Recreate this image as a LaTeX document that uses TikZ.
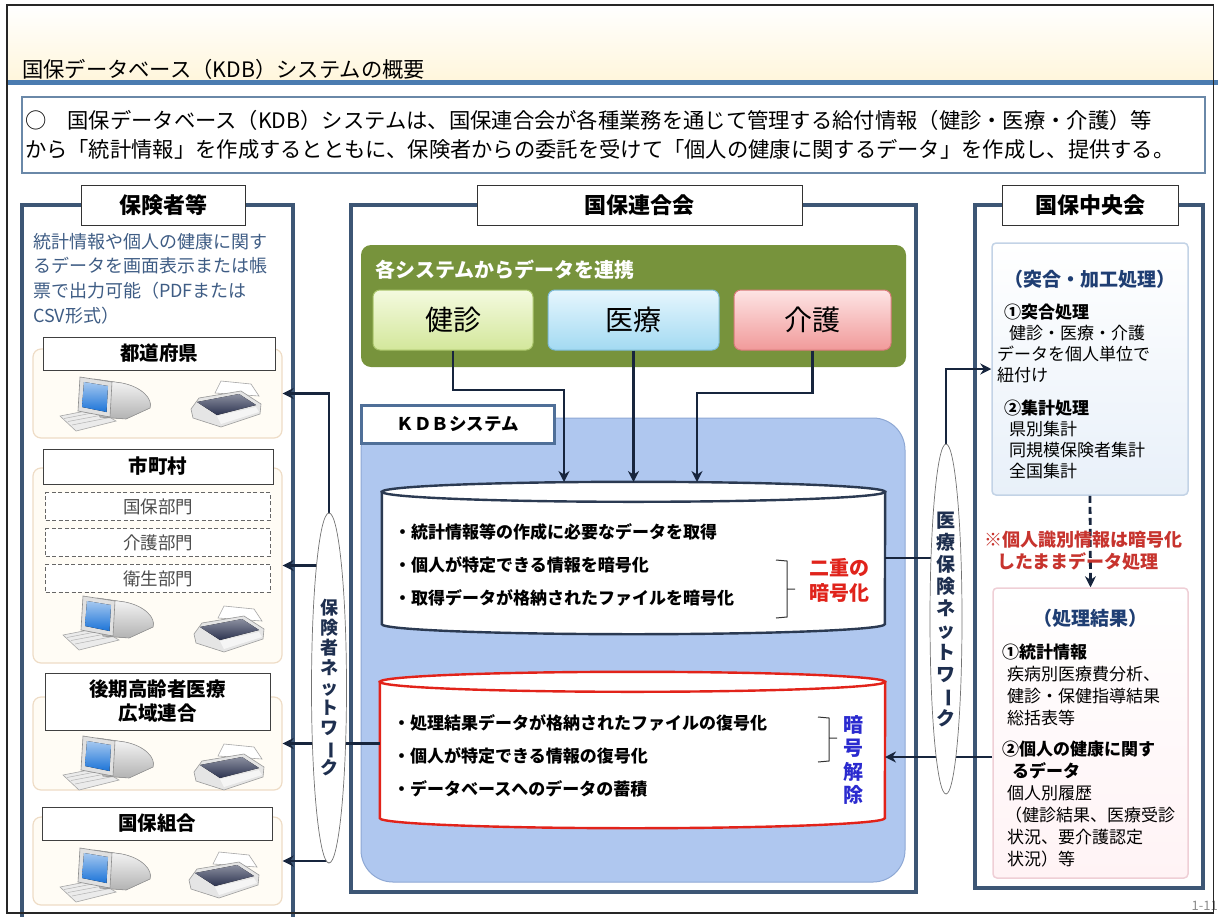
\documentclass[tikz,border=0pt]{standalone}
\usepackage{fontspec}
\setmainfont{Noto Sans CJK JP}
\usepackage{graphicx}
\usetikzlibrary{arrows.meta, positioning, shapes.geometric}

\definecolor{headcream}{HTML}{FFF6DC}
\definecolor{titlebar}{HTML}{4A7BB0}
\definecolor{sumline}{HTML}{6A88A8}
\definecolor{framegray}{HTML}{3D5675}
\definecolor{cream}{HTML}{FFFCF5}
\definecolor{creamline}{HTML}{EEDCC6}
\definecolor{desctext}{HTML}{3E5C84}
\definecolor{feedgreen}{HTML}{77933C}
\definecolor{kenshintop}{HTML}{F4FADF}
\definecolor{kenshinbot}{HTML}{D3E79B}
\definecolor{kenshinline}{HTML}{A9C46A}
\definecolor{iryotop}{HTML}{E6F6FD}
\definecolor{iryobot}{HTML}{A3DAF2}
\definecolor{iryoline}{HTML}{7DBCD8}
\definecolor{kaigotop}{HTML}{FDE4E4}
\definecolor{kaigobot}{HTML}{F19A9A}
\definecolor{kaigoline}{HTML}{D97A7A}
\definecolor{kdbblue}{HTML}{AFC7EF}
\definecolor{kdbline}{HTML}{8EA8D4}
\definecolor{kdblabelline}{HTML}{4F6F98}
\definecolor{dbnavy}{HTML}{2B3A52}
\definecolor{dbred}{HTML}{E2231A}
\definecolor{encred}{HTML}{E0231B}
\definecolor{decblue}{HTML}{2A2ACF}
\definecolor{headnavy}{HTML}{1F3E73}
\definecolor{notered}{HTML}{C7342E}
\definecolor{collatebot}{HTML}{E8F0F9}
\definecolor{collateline}{HTML}{C3D3E6}
\definecolor{resultbot}{HTML}{FFF3F5}
\definecolor{resultline}{HTML}{EFCFD6}
\definecolor{screenblue}{HTML}{1C74D8}
\definecolor{printnavy}{HTML}{2C3350}
\definecolor{netnavy}{HTML}{1E2F4F}
\definecolor{flowcolor}{HTML}{17253D}

\pgfdeclarelayer{front}
\pgfsetlayers{main,front}

\newcommand{\jfs}[2]{\fontsize{#1}{#2}\selectfont}
\newcommand{\tatebo}{\rotatebox[origin=c]{-90}{ー}}

% desktop computer
\newcommand{\pcicon}[1]{%
  \begin{scope}[shift={#1}]
    \filldraw[draw=black!35, fill=black!8, line width=0.6pt] (0,39) -- (36,32) -- (56,44) -- (16,54) -- cycle;
    \draw[black!30, line width=0.5pt] (4,41.5) -- (40,34.5) (8,44.5) -- (45,37.5) (12,48) -- (50,40.5);
    \filldraw[draw=black!40, top color=black!3, bottom color=black!30, line width=0.6pt]
      (34,2) -- (62,6) .. controls (82,10) and (93,22) .. (90,31) -- (66,42) -- (40,40) -- cycle;
    \filldraw[draw=black!45, fill=black!12, line width=0.6pt] (20,0) -- (52,5) -- (50,40) -- (18,34) -- cycle;
    \fill[top color=screenblue!40, bottom color=screenblue] (24,5) -- (48,9) -- (46.5,35) -- (22,30) -- cycle;
  \end{scope}}

% printer
\newcommand{\printicon}[1]{%
  \begin{scope}[shift={#1}]
    \filldraw[draw=black!35, fill=white, line width=0.6pt] (28,12) -- (34,0) -- (64,3) -- (72,15) -- cycle;
    \filldraw[draw=black!40, fill=black!10, line width=0.6pt] (4,28) -- (12,17) -- (54,10) -- (74,23) -- (73,33) -- (34,46) -- (6,37) -- cycle;
    \fill[top color=printnavy!55, bottom color=printnavy] (10,21) -- (52,13) -- (69,24) -- (30,34) -- cycle;
    \fill[black!4] (30,35) -- (69,26) -- (72,31) -- (34,43) -- cycle;
  \end{scope}}

\tikzset{
  sumbox/.style={draw=sumline, fill=white, line width=1.8pt, inner sep=0pt, minimum width=1183pt, minimum height=76pt, text width=1177pt, align=left, font=\jfs{21.3}{29}},
  panelframe/.style={draw=framegray, line width=3.5pt},
  paneltitle/.style={draw=black!80, fill=white, line width=1pt, inner sep=0pt, minimum height=40pt, font=\bfseries\jfs{22}{26}},
  desc/.style={align=left, inner sep=0pt, text=desctext, font=\jfs{18}{24.6}},
  site/.style={draw=creamline, fill=cream, line width=1.2pt, rounded corners=8pt, inner sep=0pt, minimum width=249pt},
  sitetitle/.style={draw=black!75, fill=white, line width=0.9pt, inner sep=0pt, align=center, font=\bfseries\jfs{19.5}{24}},
  deptbox/.style={draw=black!60, dash pattern=on 4pt off 2.5pt, fill=white, line width=0.8pt, inner sep=0pt, minimum width=225pt, minimum height=28pt, text=black!70, font=\jfs{17.5}{20}},
  feedbox/.style={fill=feedgreen, rounded corners=10pt, inner sep=0pt, minimum width=545pt, minimum height=122pt},
  feedtitle/.style={inner sep=0pt, text=white, font=\bfseries\jfs{20}{22}},
  sysbox/.style={rounded corners=7pt, line width=1pt, inner sep=0pt, minimum height=60pt, font=\jfs{28}{30}},
  kdbarea/.style={fill=kdbblue, draw=kdbline, line width=1pt, rounded corners=32pt, inner sep=0pt},
  kdblabel/.style={fill=white, draw=kdblabelline, line width=3pt, inner sep=0pt, minimum width=193pt, minimum height=38pt, font=\bfseries\jfs{17.5}{20}},
  dbspan/.style={inner sep=0pt},
  encwall/.style={draw=dbnavy, fill=white, line width=2.4pt},
  decwall/.style={draw=dbred, fill=white, line width=2.4pt},
  dbtext/.style={align=left, inner sep=0pt, font=\bfseries\jfs{17}{33}},
  bracketline/.style={draw=black!80, line width=1pt},
  encmark/.style={align=left, inner sep=0pt, text=encred, font=\bfseries\jfs{20}{25}},
  decmark/.style={align=center, inner sep=0pt, text=decblue, font=\bfseries\jfs{20}{23.5}},
  storebox/.style={rounded corners=4pt, line width=1.5pt, inner sep=0pt},
  boxhead/.style={inner sep=0pt, text=headnavy, font=\bfseries\jfs{19}{22}},
  boxtext/.style={align=left, inner sep=0pt, font=\jfs{17}{21}},
  note/.style={align=left, inner sep=0pt, text=notered, font=\bfseries\jfs{18}{22}},
  network/.style={ellipse, draw=black!55, fill=white, line width=0.7pt, inner sep=0pt, align=center, text=netnavy},
  flow/.style={draw=flowcolor, line width=2.8pt},
}

\begin{document}
\begin{tikzpicture}[x=1pt, y=-1pt, >={Stealth[length=11pt, width=11pt]}]
  \useasboundingbox (0,0) rectangle (1218,916);
  \clip (0,0) rectangle (1218,916);

  % Header
  \shade[top color=white, bottom color=headcream] (7,5) rectangle (1213,80);
  \node[anchor=west, inner sep=0pt, font=\jfs{21.3}{24}] (title) at (22,69) {国保データベース（KDB）システムの概要};
  \draw[titlebar, line width=5pt] (7,82.5) -- (1218,82.5);

  % Summary
  \node[sumbox] (summary) at (613.5,135) {○　国保データベース（KDB）システムは、国保連合会が各種業務を通じて管理する給付情報（健診・医療・介護）等\\から「統計情報」を作成するとともに、保険者からの委託を受けて「個人の健康に関するデータ」を作成し、提供する。};

  % Panels
  \draw[panelframe] (22,205) rectangle (293,935);
  \draw[panelframe] (351,205) rectangle (916,892);
  \draw[panelframe] (975,205) rectangle (1203,888);
  \node[paneltitle, minimum width=164pt] (insurer) at (163,205) {保険者等};
  \node[paneltitle, minimum width=325pt] (rengokai) at (639.5,205) {国保連合会};
  \node[paneltitle, minimum width=176pt] (chuokai) at (1090,205) {国保中央会};

  % Insurers
  \node[desc, anchor=north west] (desc) at (33,233) {統計情報や個人の健康に関す\\るデータを画面表示または帳\\票で出力可能（PDFまたは\\CSV形式）};
  \node[site, minimum height=89pt] (pref) at (157.5,393.5) {};
  \node[site, minimum height=195pt] (city) at (157.5,565.5) {};
  \node[site, minimum height=93pt] (koiki) at (157.5,743.5) {};
  \node[site, minimum height=88pt] (kumiai) at (157.5,861) {};
  \node[sitetitle, minimum width=232pt, minimum height=33pt] (preft) at (159,353.5) {都道府県};
  \node[sitetitle, minimum width=230pt, minimum height=35pt] (cityt) at (158,466.5) {市町村};
  \node[sitetitle, minimum width=225pt, minimum height=57pt] (koikit) at (157.5,701.5) {後期高齢者医療\\広域連合};
  \node[sitetitle, minimum width=230pt, minimum height=33pt] (kumiait) at (157,823.5) {国保組合};
  \node[deptbox, below=8pt of cityt] (kokuho) {国保部門};
  \node[deptbox, below=7pt of kokuho] (kaigobu) {介護部門};
  \node[deptbox, below=7pt of kaigobu] (eisei) {衛生部門};
  \pcicon{(60,377)}  \printicon{(187,381)}
  \pcicon{(63,596)}  \printicon{(190,606)}
  \pcicon{(63,736)}  \printicon{(190,744)}
  \pcicon{(60,848)}  \printicon{(185,852)}

  % Source systems
  \node[feedbox] (feed) at (633.5,306) {};
  \node[feedtitle, anchor=west] (feedhead) at (375,270) {各システムからデータを連携};
  \node[sysbox, top color=kenshintop, bottom color=kenshinbot, draw=kenshinline, minimum width=160pt] (kenshin) at (453,320) {健診};
  \node[sysbox, top color=iryotop, bottom color=iryobot, draw=iryoline, minimum width=171pt] (iryo) at (633.5,320) {医療};
  \node[sysbox, top color=kaigotop, bottom color=kaigobot, draw=kaigoline, minimum width=157pt] (kaigo) at (812.5,320) {介護};

  % KDB system
  \node[kdbarea, minimum width=544pt, minimum height=464pt] (kdb) at (633,650) {};
  \node[kdblabel] (kdbt) at (457.5,424) {ＫＤＢシステム};

  % encrypted store
  \node[dbspan, minimum width=503pt, minimum height=132pt] (encdb) at (633.5,558) {};
  \filldraw[encwall] (encdb.north west) -- (encdb.south west) arc[start angle=180, end angle=360, x radius=251.5pt, y radius=10pt] -- (encdb.north east) -- cycle;
  \filldraw[encwall] (encdb.north) ellipse[x radius=251.5pt, y radius=10pt];
  \node[dbtext, anchor=west] (enclist) at (394,565) {・統計情報等の作成に必要なデータを取得\\・個人が特定できる情報を暗号化\\・取得データが格納されたファイルを暗号化};
  \draw[bracketline] (776,560) -- (787,561) -- (787,617) -- (776,618) (787,589) -- (795,589);
  \node[encmark, anchor=west] (encmark) at (809,580) {二重の\\暗号化};

  % decrypted store
  \node[dbspan, minimum width=505pt, minimum height=136pt] (decdb) at (632.5,750) {};
  \filldraw[decwall] (decdb.north west) -- (decdb.south west) arc[start angle=180, end angle=360, x radius=252.5pt, y radius=10pt] -- (decdb.north east) -- cycle;
  \filldraw[decwall] (decdb.north) ellipse[x radius=252.5pt, y radius=10pt];
  \node[dbtext, anchor=west] (declist) at (393,756) {・処理結果データが格納されたファイルの復号化\\・個人が特定できる情報の復号化\\・データベースへのデータの蓄積};
  \draw[bracketline] (818,717) -- (829,718) -- (829,761) -- (818,762) (829,738) -- (837,738);
  \node[decmark] (decmark) at (853,760) {暗\\号\\解\\除};

  % Central processing
  \node[storebox, top color=white, bottom color=collatebot, draw=collateline, minimum width=196pt, minimum height=252pt] (collate) at (1090,369) {};
  \node[boxhead, below=28pt of collate.north] (collatehead) {（突合・加工処理）};
  \node[boxtext, anchor=north west] (collatetxt) at (997,304) {\hspace*{7pt}\textbf{①突合処理}\\\hspace*{12pt}健診・医療・介護\\データを個人単位で\\紐付け\\[12pt]\hspace*{7pt}\textbf{②集計処理}\\\hspace*{12pt}県別集計\\\hspace*{12pt}同規模保険者集計\\\hspace*{12pt}全国集計};
  \node[storebox, top color=white, bottom color=resultbot, draw=resultline, minimum width=195pt, minimum height=290pt] (result) at (1090.5,733) {};
  \node[boxhead, below=22pt of result.north] (resulthead) {（処理結果）};
  \node[boxtext, anchor=north west, font=\jfs{17}{22}] (resulttxt) at (999,644) {\hspace*{3pt}\textbf{①統計情報}\\\hspace*{8pt}疾病別医療費分析、\\\hspace*{8pt}健診・保健指導結果\\\hspace*{8pt}総括表等\\[9pt]\hspace*{3pt}\textbf{②個人の健康に関す}\\\hspace*{13pt}\textbf{るデータ}\\\hspace*{8pt}個人別履歴\\\hspace*{6pt}（健診結果、医療受診\\\hspace*{8pt}状況、要介護認定\\\hspace*{8pt}状況）等};

  % Networks
  \begin{pgfonlayer}{front}
    \node[network, minimum width=35pt, minimum height=350pt, font=\bfseries\jfs{18}{20}] (lnet) at (329,688) {保\\険\\者\\ネ\\ッ\\ト\\ワ\\\tatebo\\ク};
    \node[network, minimum width=32pt, minimum height=350pt, font=\bfseries\jfs{19}{22}] (rnet) at (946,619) {医\\療\\保\\険\\ネ\\ッ\\ト\\ワ\\\tatebo\\ク};
  \end{pgfonlayer}

  % Connectors
  \coordinate (in1) at (564,482);
  \coordinate (in2) at (633.5,482);
  \coordinate (in3) at (697,482);
  \coordinate (bend1) at (564,390);
  \coordinate (bend3) at (697,393);
  \coordinate (back) at (885,757);
  \draw[flow, ->] (kenshin.south) |- (bend1) -- (in1);
  \draw[flow, ->] (iryo.south) -- (in2);
  \draw[flow, ->] (kaigo.south) |- (bend3) -- (in3);

  \draw[flow, ->] (lnet.north) |- (pref.east);
  \draw[flow, ->] (lnet.center |- city.east) -- (city.east);
  \draw[flow, ->] (decdb.west |- koiki.east) -- (koiki.east);
  \draw[flow, ->] (lnet.south) |- (kumiai.east);

  \draw[flow] (encdb.east) -- (encdb.east -| rnet.center);
  \draw[flow, ->] (rnet.north) |- (collate.west);
  \draw[flow, ->] (result.west |- back) -- (back);
  \draw[flow, dash pattern=on 7pt off 4pt, ->] (collate.south) -- (result.north);
  \node[note] (keepenc) at (1083,551) {※個人識別情報は暗号化\\\hspace*{13pt}したままデータ処理};

  % Page
  \node[anchor=east, inner sep=0pt, text=black!45, font=\jfs{13}{14}] (pageno) at (1218,906) {1-11};
  \draw[black!85, line width=1.5pt] (7,5) rectangle (1213.5,913);
\end{tikzpicture}
\end{document}
